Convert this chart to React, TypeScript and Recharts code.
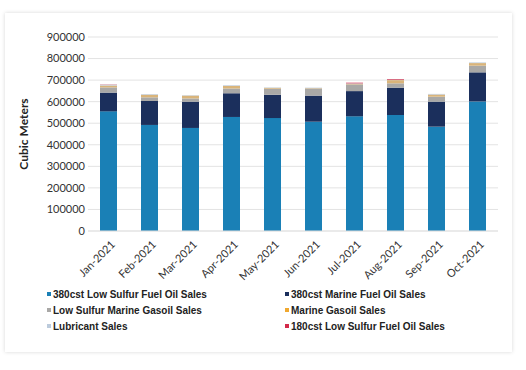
import React from "react";
import { BarChart, Bar, XAxis, YAxis, CartesianGrid } from "recharts";

const months = ["Jan-2021", "Feb-2021", "Mar-2021", "Apr-2021", "May-2021", "Jun-2021", "Jul-2021", "Aug-2021", "Sep-2021", "Oct-2021"];
const lsfo380 = [555000, 492000, 478000, 529000, 524000, 507000, 532000, 538000, 484000, 601000];
const mfo380 = [87000, 111000, 122000, 110000, 108000, 121000, 117000, 127000, 116000, 135000];
const lsmgo = [24000, 17000, 15000, 22000, 28000, 33000, 31000, 20000, 23000, 31000];
const mgo = [9000, 12000, 13000, 12000, 4000, 2000, 3000, 15000, 10000, 12000];
const lubricant = [4000, 3000, 2000, 3000, 2000, 2000, 2000, 2000, 3000, 3000];
const lsfo180 = [1000, 0, 0, 0, 0, 0, 3000, 3000, 0, 0];
const yTicks = [0, 100000, 200000, 300000, 400000, 500000, 600000, 700000, 800000, 900000];

const seriesNames = [
  "380cst Low Sulfur Fuel Oil Sales",
  "380cst Marine Fuel Oil Sales",
  "Low Sulfur Marine Gasoil Sales",
  "Marine Gasoil Sales",
  "Lubricant Sales",
  "180cst Low Sulfur Fuel Oil Sales",
];
const seriesKeys = ["lsfo380", "mfo380", "lsmgo", "mgo", "lubricant", "lsfo180"];
const seriesValues = [lsfo380, mfo380, lsmgo, mgo, lubricant, lsfo180];
const seriesColors = ["#1a80b6", "#1b2f5c", "#a9a8a6", "#d9b47a", "#bccbdc", "#d32a4a"];
const legendColors = ["#1a80b6", "#1b2f5c", "#a9a8a6", "#f0a830", "#bccbdc", "#d32a4a"];

const data = months.map((m, i) => {
  const row: Record<string, string | number> = { month: m };
  seriesKeys.forEach((k, j) => {
    row[k] = seriesValues[j][i];
  });
  return row;
});

const XTick = (props: any) => {
  const { x, y, payload } = props;
  return (
    <g transform={`translate(${x + 4},${y + 3})`}>
      <text
        x={0}
        y={0}
        transform="rotate(-45)"
        textAnchor="end"
        dominantBaseline="central"
        fontSize={11}
        fill="#333"
        fontFamily="Lato, 'Liberation Sans', sans-serif"
      >
        {payload.value}
      </text>
    </g>
  );
};

export default function App() {
  const legendCols = [
    [0, 2, 4],
    [1, 3, 5],
  ];
  const colLeft = [47, 285];
  return (
    <div style={{ position: "absolute", left: 0, top: 0, width: 526, height: 370, background: "#ffffff" }}>
      <div
        style={{
          position: "absolute",
          left: 5,
          top: 13,
          width: 507,
          height: 339,
          background: "#fff",
          boxShadow: "0 0 4px rgba(0,0,0,0.16)",
        }}
      />
      <div style={{ position: "absolute", left: 0, top: 0 }}>
        <BarChart
          width={526}
          height={370}
          data={data}
          margin={{ top: 37, right: 28, left: 0, bottom: 79 }}
          barSize={17}
        >
          <CartesianGrid vertical={false} stroke="#e3e3e3" />
          <XAxis
            dataKey="month"
            interval={0}
            height={60}
            tickLine={false}
            axisLine={{ stroke: "#e3e3e3" }}
            tick={<XTick />}
          />
          <YAxis
            width={88}
            domain={[0, 900000]}
            ticks={yTicks}
            interval={0}
            tickLine={false}
            axisLine={false}
            tickSize={3}
            tickMargin={0}
            tick={{ fontSize: 11, fill: "#333", fontFamily: "Lato, 'Liberation Sans', sans-serif" }}
            label={{
              value: "Cubic Meters",
              angle: -90,
              position: "insideLeft",
              dx: 19,
              style: { fontSize: 12, fontWeight: 700, fill: "#222", fontFamily: "Lato, 'Liberation Sans', sans-serif", textAnchor: "middle" },
            }}
          />
          {seriesKeys.map((k, j) => (
            <Bar key={k} dataKey={k} name={seriesNames[j]} stackId="a" fill={seriesColors[j]} isAnimationActive={false} />
          ))}
        </BarChart>
      </div>
      {legendCols.map((col, ci) =>
        col.map((si, ri) => (
          <div
            key={si}
            style={{
              position: "absolute",
              left: colLeft[ci],
              top: 287 + ri * 16,
              height: 14,
              display: "flex",
              alignItems: "center",
              fontFamily: "'Liberation Sans', Arial, sans-serif",
              fontWeight: 700,
              fontSize: 10,
              color: "#222",
              whiteSpace: "nowrap",
            }}
          >
            <span style={{ display: "inline-block", width: 4, height: 4, background: legendColors[si], marginRight: 2 }} />
            {seriesNames[si]}
          </div>
        ))
      )}
    </div>
  );
}
